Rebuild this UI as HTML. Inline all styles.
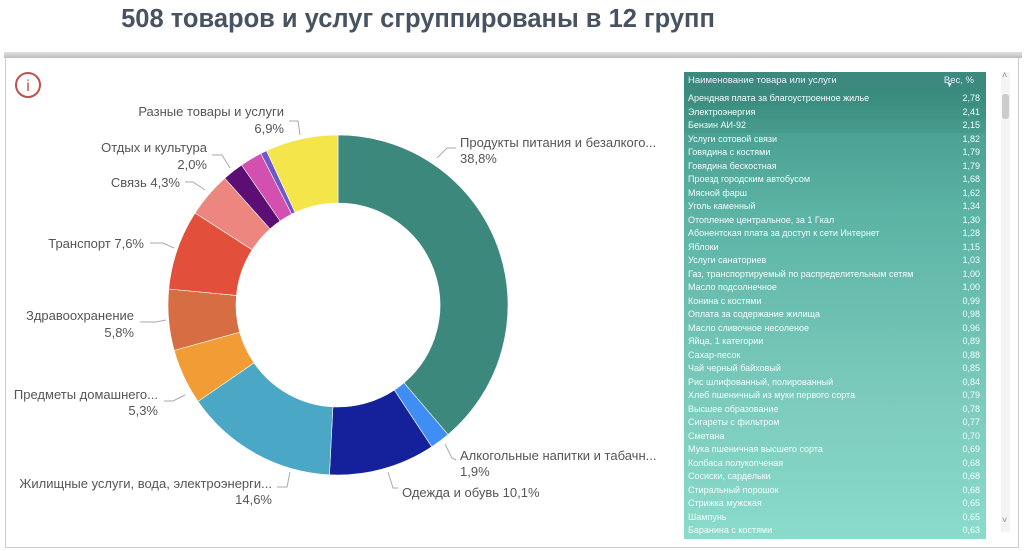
<!DOCTYPE html>
<html><head><meta charset="utf-8"><style>
body{margin:0;width:1024px;height:551px;background:#fff;overflow:hidden;font-family:"Liberation Sans",sans-serif;position:relative}
.title{position:absolute;left:0;width:836px;top:5px;text-align:center;font-size:25.5px;font-weight:bold;color:#485361}
.bar{position:absolute;left:4px;top:52px;width:1018px;height:6px;background:linear-gradient(#e2e2e2,#bcbcbc)}
.panel{position:absolute;left:5px;top:58px;width:1014px;height:490px;border:1px solid #ccc;border-top:none;box-sizing:border-box}
.tbl{position:absolute;left:684px;top:72px;width:302px;height:467px;background:linear-gradient(#3f9385,#5bb3a4 30%,#7ccbbc 70%,#8adbcb);}
.hdr{height:20px;background:#3b8a7d;color:#eef;font-size:9.5px;position:relative}
.row{height:13.5px;line-height:13.5px;color:#f2fffc;font-size:9px;position:relative;padding-left:4px}
.row span{position:absolute;right:6px}
.sb{position:absolute;left:1001px;top:72px;width:9px;height:460px;background:#f4f4f4}
</style></head><body>
<div class="title">508 товаров и услуг сгруппированы в 12 групп</div>
<div class="bar"></div><div class="panel"></div>
<svg width="1024" height="551" style="position:absolute;left:0;top:0" font-family="Liberation Sans, sans-serif" font-size="13" fill="#555">
<circle cx="28" cy="85" r="12" fill="none" stroke="#c0504d" stroke-width="2"/>
<text x="28" y="91" text-anchor="middle" fill="#c0504d" font-size="16">i</text>
<g id="pie"></g>
<g stroke="#aaa" fill="none" stroke-width="1">
<polyline points="437,158 447,148 456,148"/>
<polyline points="445,444 452,458 456,460"/>
<polyline points="388,472 393,488 398,488"/>
<polyline points="290,472 287,487 277,487"/>
<polyline points="185,395 173,401 164,401"/>
<polyline points="166,320 156,322 140,322"/>
<polyline points="174,248 163,243 150,243"/>
<polyline points="205,190 193,182 185,182"/>
<polyline points="230,168 222,155 212,155"/>
<polyline points="300,135 298,121 289,121"/>
</g>
<g fill="#555">
<text x="460" y="147">Продукты питания и безалкого...</text><text x="460" y="163">38,8%</text>
<text x="460" y="460">Алкогольные напитки и табачн...</text><text x="460" y="476">1,9%</text>
<text x="402" y="497">Одежда и обувь 10,1%</text>
<g text-anchor="end">
<text x="272" y="488">Жилищные услуги, вода, электроэнерги...</text><text x="272" y="504">14,6%</text>
<text x="158" y="399">Предметы домашнего...</text><text x="158" y="415">5,3%</text>
<text x="134" y="320">Здравоохранение</text><text x="134" y="337">5,8%</text>
<text x="144" y="248">Транспорт 7,6%</text>
<text x="180" y="187">Связь 4,3%</text>
<text x="207" y="152">Отдых и культура</text><text x="207" y="169">2,0%</text>
<text x="284" y="116">Разные товары и услуги</text><text x="284" y="133">6,9%</text>
</g></g>
</svg>
<div class="tbl">
<div class="hdr"><span style="position:absolute;left:4px;top:3px">Наименование товара или услуги</span><span style="position:absolute;right:12px;top:3px">Вес, %</span><span style="position:absolute;right:33px;top:10px;font-size:7px">▼</span></div>
<div id="rows"></div>
</div>
<div class="sb"><div style="position:absolute;top:22px;left:1px;width:7px;height:25px;background:#ccc;border-radius:3px"></div></div>
<div style="position:absolute;left:1002px;top:70px;font-size:9px;color:#888">˄</div>
<div style="position:absolute;left:1002px;top:515px;font-size:9px;color:#888">˅</div>
<script>
var d=[[38.8,"#3d887c"],[1.9,"#3f8ef5"],[10.1,"#15219a"],[14.6,"#4aa8c6"],[5.3,"#f29c35"],[5.8,"#d76d42"],[7.6,"#e2503c"],[4.3,"#ee8680"],[2.0,"#5c0e74"],[2.1,"#d34fb0"],[0.6,"#7058c8"],[6.9,"#f3e54a"]];
var tot=0;d.forEach(function(x){tot+=x[0]});
var cx=338,cy=305,R=170,r=102,a=0,s="";
function p(rr,an){return [cx+rr*Math.sin(an),cy-rr*Math.cos(an)]}
d.forEach(function(x){var b=a+x[0]/tot*2*Math.PI,l=(b-a)>Math.PI?1:0;
var p1=p(R,a),p2=p(R,b),p3=p(r,b),p4=p(r,a);
s+='<path fill="'+x[1]+'" stroke="#fff" stroke-width="0.6" d="M'+p1+'A'+R+','+R+' 0 '+l+' 1 '+p2+'L'+p3+'A'+r+','+r+' 0 '+l+' 0 '+p4+'Z"/>';a=b;});
document.getElementById('pie').innerHTML=s;
var t=[["Арендная плата за благоустроенное жилье","2,78"],["Электроэнергия","2,41"],["Бензин АИ-92","2,15"],["Услуги сотовой связи","1,82"],["Говядина с костями","1,79"],["Говядина бескостная","1,79"],["Проезд городским автобусом","1,68"],["Мясной фарш","1,62"],["Уголь каменный","1,34"],["Отопление центральное, за 1 Гкал","1,30"],["Абонентская плата за доступ к сети Интернет","1,28"],["Яблоки","1,15"],["Услуги санаториев","1,03"],["Газ, транспортируемый по распределительным сетям","1,00"],["Масло подсолнечное","1,00"],["Конина с костями","0,99"],["Оплата за содержание жилища","0,98"],["Масло сливочное несоленое","0,96"],["Яйца, 1 категории","0,89"],["Сахар-песок","0,88"],["Чай черный байховый","0,85"],["Рис шлифованный, полированный","0,84"],["Хлеб пшеничный из муки первого сорта","0,79"],["Высшее образование","0,78"],["Сигареты с фильтром","0,77"],["Сметана","0,70"],["Мука пшеничная высшего сорта","0,69"],["Колбаса полукопченая","0,68"],["Сосиски, сардельки","0,68"],["Стиральный порошок","0,68"],["Стрижка мужская","0,65"],["Шампунь","0,65"],["Баранина с костями","0,63"]];
var h="";t.forEach(function(x,i){var bg=i<3?'background:rgba(40,120,105,'+(0.35-i*0.1)+')':'';h+='<div class="row" style="'+bg+'">'+x[0]+'<span>'+x[1]+'</span></div>'});
document.getElementById('rows').innerHTML=h;
</script>
</body></html>
